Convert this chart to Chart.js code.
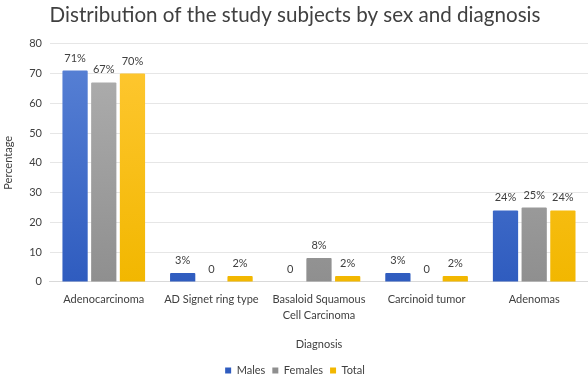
<!DOCTYPE html>
<html>
<head>
<meta charset="utf-8">
<script src="https://cdn.jsdelivr.net/npm/chart.js@4.4.0/dist/chart.umd.min.js"></script>
<style>
  html, body { margin: 0; padding: 0; background: #fff; }
  #wrap { width: 588px; height: 381px; position: relative; }
</style>
</head>
<body>
<div id="wrap"><canvas id="diagChart"></canvas></div>
<script>
const categories = ['Adenocarcinoma', 'AD Signet ring type', ['Basaloid Squamous', 'Cell Carcinoma'], 'Carcinoid tumor', 'Adenomas'];
const males = [71, 3, 0, 3, 24];
const females = [67, 0, 8, 0, 25];
const total = [70, 2, 2, 2, 24];
const yTicks = [0, 10, 20, 30, 40, 50, 60, 70, 80];

const FONT = 'Lato, "Open Sans", sans-serif';

// vertical gradient per bar, lighter at the top
function barGradient(top, bottom) {
    return function (ctx) {
        const chart = ctx.chart;
        const area = chart.chartArea;
        if (!area) return bottom;
        const g = chart.ctx.createLinearGradient(0, area.top, 0, area.bottom);
        g.addColorStop(0, top);
        g.addColorStop(1, bottom);
        return g;
    };
}

// value labels above bars
const valueLabels = {
    id: 'valueLabels',
    afterDatasetsDraw(chart) {
        const c = chart.ctx;
        c.save();
        c.font = '11px ' + FONT;
        c.fillStyle = '#404040';
        c.textAlign = 'center';
        c.textBaseline = 'bottom';
        chart.data.datasets.forEach((ds, i) => {
            chart.getDatasetMeta(i).data.forEach((bar, j) => {
                const v = ds.data[j];
                const txt = v === 0 ? '0' : v + '%';
                c.fillText(txt, bar.x, bar.y - 7);
            });
        });
        c.restore();
    }
};

function makeChart() {
    const ctx = document.getElementById('diagChart').getContext('2d');
    new Chart(ctx, {
        type: 'bar',
        data: {
            labels: categories,
            datasets: [
                { label: 'Males', data: males, backgroundColor: barGradient('#5a83d6', '#2f5cbf') },
                { label: 'Females', data: females, backgroundColor: barGradient('#b0b0b0', '#8f8f8f') },
                { label: 'Total', data: total, backgroundColor: barGradient('#ffc834', '#f2b700') }
            ]
        },
        options: {
            responsive: true,
            maintainAspectRatio: false,
            animation: false,
            layout: { padding: { left: 2, right: 0, top: 0, bottom: -5 } },
            datasets: {
                bar: { categoryPercentage: 0.8, barPercentage: 0.88, borderRadius: 1 }
            },
            plugins: {
                title: {
                    display: true,
                    text: 'Distribution of the study subjects by sex and diagnosis',
                    color: '#404040',
                    font: { family: FONT, size: 20.6, weight: 'normal' },
                    padding: { top: 3, bottom: 16 }
                },
                legend: {
                    position: 'bottom',
                    labels: {
                        boxWidth: 6, boxHeight: 6,
                        color: '#404040',
                        font: { family: FONT, size: 11 },
                        padding: 7
                    }
                },
                tooltip: { enabled: false }
            },
            scales: {
                x: {
                    grid: { display: false },
                    border: { color: '#d9d9d9' },
                    ticks: { color: '#404040', font: { family: FONT, size: 11, lineHeight: 1.45 }, maxRotation: 0, autoSkip: false, padding: 2 },
                    title: { display: true, text: 'Diagnosis', color: '#404040', font: { family: FONT, size: 11 }, padding: { top: 12, bottom: 7 } }
                },
                y: {
                    min: 0, max: 80,
                    afterBuildTicks: axis => { axis.ticks = yTicks.map(v => ({ value: v })); },
                    grid: { color: '#e6e6e6', drawTicks: false },
                    border: { display: false },
                    ticks: { color: '#404040', font: { family: FONT, size: 11 }, padding: 8 },
                    title: { display: true, text: 'Percentage', color: '#404040', font: { family: FONT, size: 11 }, padding: { top: 0, bottom: 6 } }
                }
            }
        },
        plugins: [valueLabels]
    });
}

window.onload = makeChart;
</script>
</body>
</html>
